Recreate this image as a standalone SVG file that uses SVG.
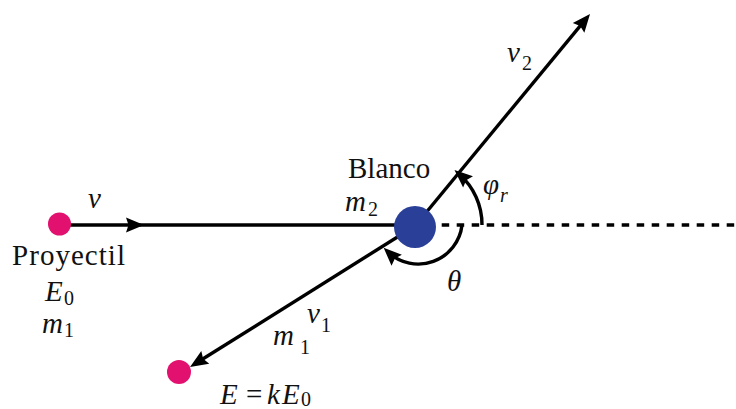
<svg xmlns="http://www.w3.org/2000/svg" width="736" height="409" viewBox="0 0 736 409">
<defs>
<style>
.ln{fill:none;stroke:#000;stroke-width:3.4}
.dash{fill:none;stroke:#000;stroke-width:3.4;stroke-dasharray:7.5 7.5}
.t{font-family:'Liberation Serif','DejaVu Serif',serif;font-size:29px;fill:#111}
.i{font-style:italic}
.s{font-size:20px;font-style:normal}
.si{font-size:20px;font-style:italic}
.pink{fill:#e2116f}
.blue{fill:#2a3f98}
</style>
<marker id="ah" markerUnits="userSpaceOnUse" markerWidth="30" markerHeight="20" viewBox="-14 -10 22 20" refX="0" refY="0" orient="auto">
<path d="M6 0 L-12 -7.5 L-9.5 0 L-12 7.5 Z" fill="#000"/>
</marker>
</defs>
<g id="connectors">
<path class="ln" d="M59 225 L138 225 L415 225" marker-mid="url(#ah)"/>
<path class="dash" d="M441.7 225 L736 225"/>
<path class="ln" d="M415 226 L586.2 18.6" marker-end="url(#ah)"/>
<path class="ln" d="M415 226 L195.1 363.8" marker-end="url(#ah)"/>
<path class="ln" d="M482 225 A67 67 0 0 0 459 174" marker-end="url(#ah)"/>
<path class="ln" d="M462 225 A44 44 0 0 1 388 252" marker-end="url(#ah)"/>
</g>
<g id="proyectil">
<circle class="pink" cx="59.5" cy="224" r="11.5"/>
<text class="t" x="12" y="265" textLength="113" lengthAdjust="spacing">Proyectil</text>
<text class="t i" x="45" y="301">E<tspan class="s" x="64" y="305">0</tspan></text>
<text class="t i" x="42" y="333">m<tspan class="s" x="64" y="337">1</tspan></text>
</g>
<g id="blanco">
<circle class="blue" cx="415" cy="227" r="21"/>
<text class="t" x="348" y="178">Blanco</text>
<text class="t i" x="345" y="211">m<tspan class="s" x="368" y="216">2</tspan></text>
</g>
<g id="proyectil-final">
<circle class="pink" cx="179" cy="372" r="12"/>
<text class="t i" x="220" y="404">E<tspan class="s" style="font-size:29px" x="246">=</tspan><tspan x="267">k</tspan><tspan x="282">E</tspan><tspan class="s" x="301" y="406">0</tspan></text>
</g>
<g id="labels">
<text class="t i" x="88" y="208">v</text>
<text class="t i" x="507" y="62">v<tspan class="s" x="522" y="70">2</tspan></text>
<text class="t i" x="307" y="323">v<tspan class="s" x="321" y="332">1</tspan></text>
<text class="t i" x="273" y="345">m<tspan class="s" x="300" y="354">1</tspan></text>
<text class="t i" x="483" y="194">φ<tspan class="si" x="500" y="202">r</tspan></text>
<text class="t i" x="447" y="291">θ</text>
</g>
</svg>
